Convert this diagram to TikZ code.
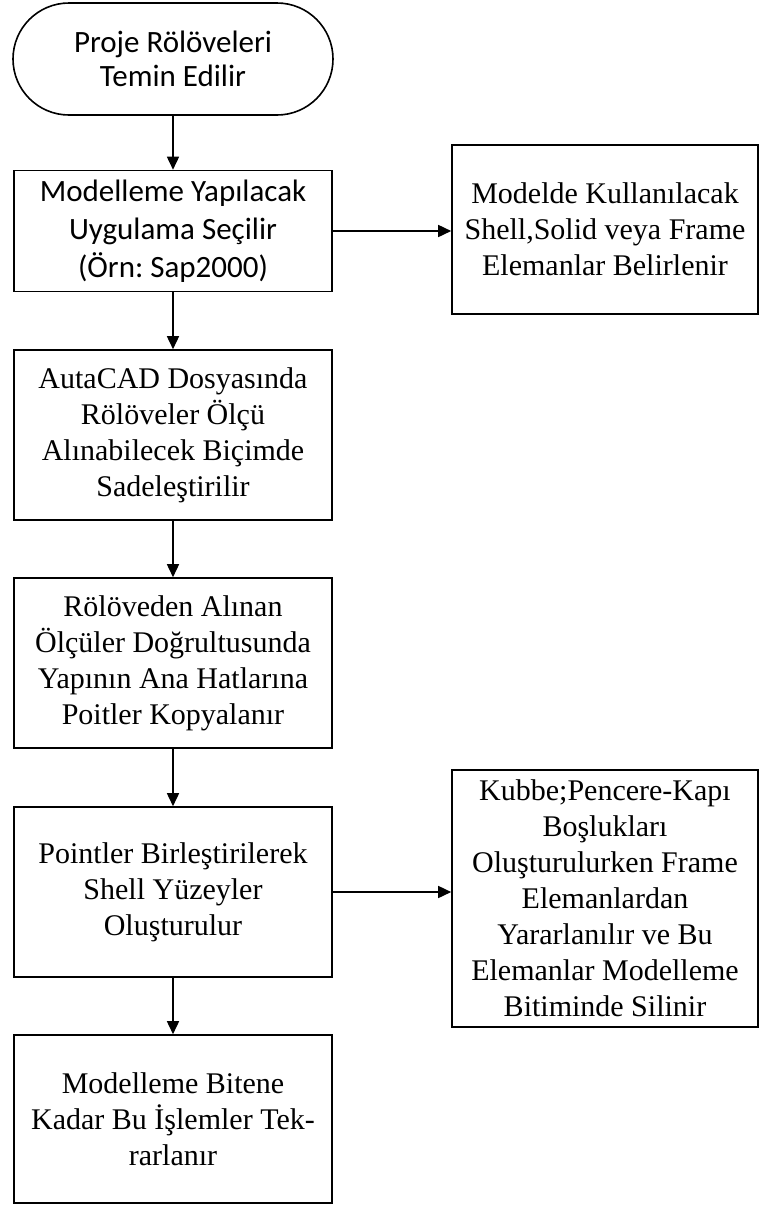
\documentclass[tikz,border=0pt]{standalone}
\usepackage{fontspec}
\setmainfont{Liberation Serif}
\newfontfamily\calfont{Carlito}
\usetikzlibrary{arrows.meta,positioning}

\begin{document}
\begin{tikzpicture}[
x=1pt, y=-1pt,
box/.style={draw, line width=1.6pt, align=center, inner sep=0pt, minimum width=318pt, minimum height=170pt, font=\fontsize{30}{36}\selectfont},
sidebox/.style={box, minimum width=306pt},
calbox/.style={box, font=\calfont\fontsize{31}{38}\selectfont},
arr/.style={-{Triangle[length=13pt,width=12pt]}, line width=1.6pt}
]
\useasboundingbox (0,0) rectangle (759,1205);
\node[calbox, rounded corners=56pt, minimum width=320pt, minimum height=112pt, font=\calfont\fontsize{31}{34}\selectfont] (start) at (173,59) {Proje Rölöveleri\\Temin Edilir};
\node[calbox, minimum height=121pt] (model) at (173,231) {Modelleme Yapılacak\\Uygulama Seçilir\\(Örn:\ Sap2000)};
\node[box] (cad) at (173,435) {AutaCAD Dosyasında\\Rölöveler Ölçü\\Alınabilecek Biçimde\\Sadeleştirilir};
\node[box] (olcu) at (173,663) {Rölöveden Alınan\\Ölçüler Doğrultusunda\\Yapının Ana Hatlarına\\Poitler Kopyalanır};
\node[box] (point) at (173,892) {Pointler Birleştirilerek\\Shell Yüzeyler\\Oluşturulur};
\node[box, minimum height=168pt] (tekrar) at (173,1119) {Modelleme Bitene\\Kadar Bu İşlemler Tek-\\rarlanır};
\node[sidebox, minimum height=169pt] (eleman) at (605,229.5) {Modelde Kullanılacak\\Shell,Solid veya Frame\\Elemanlar Belirlenir};
\node[sidebox, minimum height=257pt] (kubbe) at (605,898.5) {Kubbe;Pencere-Kapı\\Boşlukları\\Oluşturulurken Frame\\Elemanlardan\\Yararlanılır ve Bu\\Elemanlar Modelleme\\Bitiminde Silinir};
\draw[arr] (start)--(model);
\draw[arr] (model)--(cad);
\draw[arr] (cad)--(olcu);
\draw[arr] (olcu)--(point);
\draw[arr] (point)--(tekrar);
\draw[arr] (model.east)--(model.east -| eleman.west);
\draw[arr] (point.east)--(point.east -| kubbe.west);
\end{tikzpicture}
\end{document}
